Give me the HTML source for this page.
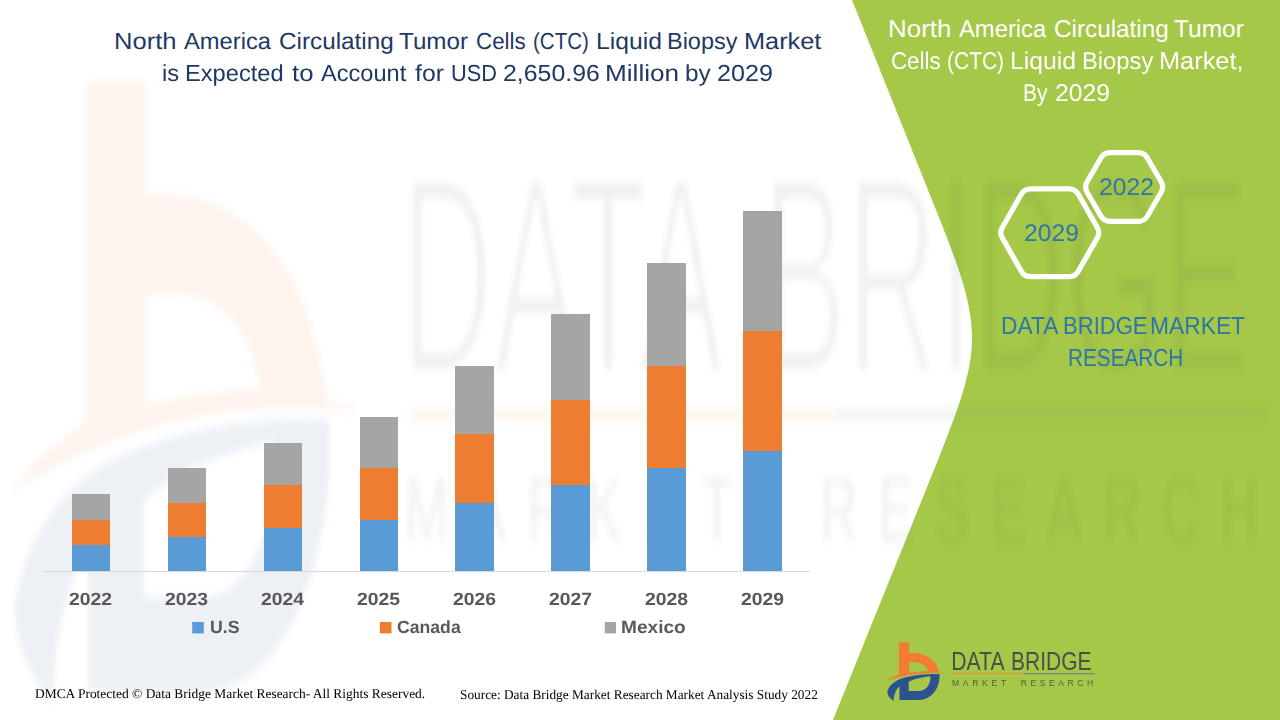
<!DOCTYPE html>
<html lang="en"><head><meta charset="utf-8"><title>North America CTC Liquid Biopsy Market</title>
<style>
html,body{margin:0;padding:0;background:#fff;}
body{width:1280px;height:720px;position:relative;overflow:hidden;}
svg.bg{position:absolute;left:0;top:0;}
.t{position:absolute;white-space:nowrap;line-height:1;transform-origin:0 0;text-rendering:geometricPrecision;}
</style></head><body>
<svg class="bg" width="1280" height="720" viewBox="0 0 1280 720">
<defs>
<filter id="thin" x="-5%" y="-10%" width="110%" height="120%"><feMorphology operator="erode" radius="0.34 0.3"/></filter>
<symbol id="logo" viewBox="0 0 212 68" preserveAspectRatio="none">
<g transform="translate(0,0.9)">
<path fill="#f47b35" d="M14.2,6.9 H24.2 V17.6 C31,17.3 36,18 40.5,20.1 C47.5,23 52.3,28.5 54.2,37 C56,37.2 58,37.5 59.5,38 C52,37.6 44,37.4 34,38.3 C22,39.5 10,42.5 1.5,45.8 C5,43 9.5,40.8 14.2,39 Z M24.2,27.0 V37.4 C30,36.6 37,36 43.2,35.8 C42,31.6 38.5,28.4 34,27.4 C31,26.8 27.5,26.9 24.2,27.0 Z"/>
<path fill="#2c5291" fill-rule="evenodd" d="M2.4,56.5 C3.5,51.5 8,46.5 16,43.4 C27,39.6 42,38.5 54.6,38.7 C55,43 54.3,47.5 52.5,51.5 C49,59.5 42.5,64 34,64.5 H14.6 V51.1 C11.5,53.5 9,58.5 8.8,65.7 C5,63 2.6,60 2.4,56.5 Z M23.8,46.3 V55.5 H34.5 C39.5,55 43,52 44.6,47.5 C45.4,45.3 45.7,43 45.7,40.9 C38,41.5 29.5,43.5 23.8,46.3 Z"/>
</g>
<text filter="url(#thin)" x="66.4" y="35.1" font-family="Liberation Sans, sans-serif" font-size="26.3" fill="#4a4f4a" textLength="53.4" lengthAdjust="spacingAndGlyphs">DATA</text>
<text filter="url(#thin)" x="126.2" y="35.1" font-family="Liberation Sans, sans-serif" font-size="26.3" fill="#4a4f4a" textLength="80.6" lengthAdjust="spacingAndGlyphs">BRIDGE</text>
<rect x="67.7" y="38.65" width="71.2" height="1.1" fill="#e9913f"/>
<rect x="138.9" y="38.65" width="71" height="1.1" fill="#6d7f8a"/>
<text x="67.1" y="51.1" font-family="Liberation Sans, sans-serif" font-size="8.6" fill="#555a52" textLength="54.2" lengthAdjust="spacing">MARKET</text>
<text x="135.8" y="51.1" font-family="Liberation Sans, sans-serif" font-size="8.6" fill="#555a52" textLength="72.6" lengthAdjust="spacing">RESEARCH</text>
</symbol>
<filter id="wb" x="-5%" y="-5%" width="110%" height="110%"><feGaussianBlur stdDeviation="2.5 5"/></filter>
</defs>
<path fill="#a5c848" d="M852,0 L940,220 C984,330 982,350 938,460 L833,720 H1280 V0 Z"/>
<use href="#logo" x="0" y="0" width="1280" height="720" opacity="0.085" filter="url(#wb)"/>
<rect x="43" y="571" width="767" height="1" fill="#d9d9d9"/>
<rect x="72" y="494" width="38" height="26" fill="#a5a5a5"/>
<rect x="72" y="520" width="38" height="25" fill="#ed7d31"/>
<rect x="72" y="545" width="38" height="26" fill="#5b9bd5"/>
<rect x="168" y="468" width="38" height="35" fill="#a5a5a5"/>
<rect x="168" y="503" width="38" height="34" fill="#ed7d31"/>
<rect x="168" y="537" width="38" height="34" fill="#5b9bd5"/>
<rect x="264" y="443" width="38" height="42" fill="#a5a5a5"/>
<rect x="264" y="485" width="38" height="43" fill="#ed7d31"/>
<rect x="264" y="528" width="38" height="43" fill="#5b9bd5"/>
<rect x="360" y="417" width="38" height="51" fill="#a5a5a5"/>
<rect x="360" y="468" width="38" height="52" fill="#ed7d31"/>
<rect x="360" y="520" width="38" height="51" fill="#5b9bd5"/>
<rect x="455" y="366" width="39" height="68" fill="#a5a5a5"/>
<rect x="455" y="434" width="39" height="69" fill="#ed7d31"/>
<rect x="455" y="503" width="39" height="68" fill="#5b9bd5"/>
<rect x="551" y="314" width="39" height="86" fill="#a5a5a5"/>
<rect x="551" y="400" width="39" height="85" fill="#ed7d31"/>
<rect x="551" y="485" width="39" height="86" fill="#5b9bd5"/>
<rect x="647" y="263" width="39" height="103" fill="#a5a5a5"/>
<rect x="647" y="366" width="39" height="102" fill="#ed7d31"/>
<rect x="647" y="468" width="39" height="103" fill="#5b9bd5"/>
<rect x="743" y="211" width="39" height="120" fill="#a5a5a5"/>
<rect x="743" y="331" width="39" height="120" fill="#ed7d31"/>
<rect x="743" y="451" width="39" height="120" fill="#5b9bd5"/>
<rect x="192.2" y="622" width="11.6" height="11.4" fill="#5b9bd5"/>
<rect x="379.9" y="622" width="11.6" height="11.4" fill="#ed7d31"/>
<rect x="604.8" y="622" width="11.2" height="11.4" fill="#a5a5a5"/>
<path d="M1002.3,237.9 Q999.3,232.7 1002.3,227.5 L1021.4,194.0 Q1024.4,188.8 1030.4,188.8 L1069.2,188.8 Q1075.2,188.8 1078.2,194.0 L1097.3,227.5 Q1100.3,232.7 1097.3,237.9 L1078.2,271.4 Q1075.2,276.6 1069.2,276.6 L1030.4,276.6 Q1024.4,276.6 1021.4,271.4 Z" fill="none" stroke="#fff" stroke-width="5.2" stroke-linejoin="round"/>
<path d="M1087.1,192.2 Q1084.1,187.0 1087.1,181.8 L1101.0,157.8 Q1104.1,152.6 1110.1,152.6 L1138.2,152.6 Q1144.2,152.6 1147.3,157.8 L1161.2,181.8 Q1164.2,187.0 1161.2,192.2 L1147.3,216.2 Q1144.2,221.4 1138.2,221.4 L1110.1,221.4 Q1104.1,221.4 1101.0,216.2 Z" fill="none" stroke="#fff" stroke-width="5.2" stroke-linejoin="round"/>
<use href="#logo" x="884.85" y="634.5" width="212" height="68"/>
</svg>
<div class="t" style="left:114.06px;top:29.74px;font-family:'Liberation Sans', sans-serif;font-weight:400;font-size:23.3px;color:#1f3864;transform:scaleX(1.0972)">North</div>
<div class="t" style="left:183.75px;top:29.74px;font-family:'Liberation Sans', sans-serif;font-weight:400;font-size:23.3px;color:#1f3864;transform:scaleX(1.0174)">America</div>
<div class="t" style="left:278.96px;top:29.74px;font-family:'Liberation Sans', sans-serif;font-weight:400;font-size:23.3px;color:#1f3864;transform:scaleX(1.0417)">Circulating</div>
<div class="t" style="left:399.46px;top:29.74px;font-family:'Liberation Sans', sans-serif;font-weight:400;font-size:23.3px;color:#1f3864;transform:scaleX(1.0385)">Tumor</div>
<div class="t" style="left:476.04px;top:29.74px;font-family:'Liberation Sans', sans-serif;font-weight:400;font-size:23.3px;color:#1f3864;transform:scaleX(0.9600)">Cells</div>
<div class="t" style="left:532.87px;top:29.74px;font-family:'Liberation Sans', sans-serif;font-weight:400;font-size:23.3px;color:#1f3864;transform:scaleX(0.8811)">(CTC)</div>
<div class="t" style="left:595.88px;top:29.74px;font-family:'Liberation Sans', sans-serif;font-weight:400;font-size:23.3px;color:#1f3864;transform:scaleX(1.0593)">Liquid</div>
<div class="t" style="left:667.49px;top:29.74px;font-family:'Liberation Sans', sans-serif;font-weight:400;font-size:23.3px;color:#1f3864;transform:scaleX(1.0074)">Biopsy</div>
<div class="t" style="left:744.08px;top:29.74px;font-family:'Liberation Sans', sans-serif;font-weight:400;font-size:23.3px;color:#1f3864;transform:scaleX(1.0870)">Market</div>
<div class="t" style="left:162.46px;top:61.54px;font-family:'Liberation Sans', sans-serif;font-weight:400;font-size:23.3px;color:#1f3864;transform:scaleX(1.0179)">is</div>
<div class="t" style="left:185.47px;top:61.54px;font-family:'Liberation Sans', sans-serif;font-weight:400;font-size:23.3px;color:#1f3864;transform:scaleX(1.0160)">Expected</div>
<div class="t" style="left:292.00px;top:61.54px;font-family:'Liberation Sans', sans-serif;font-weight:400;font-size:23.3px;color:#1f3864;transform:scaleX(1.1053)">to</div>
<div class="t" style="left:321.25px;top:61.54px;font-family:'Liberation Sans', sans-serif;font-weight:400;font-size:23.3px;color:#1f3864;transform:scaleX(1.0119)">Account</div>
<div class="t" style="left:415.00px;top:61.54px;font-family:'Liberation Sans', sans-serif;font-weight:400;font-size:23.3px;color:#1f3864;transform:scaleX(1.0648)">for</div>
<div class="t" style="left:450.63px;top:61.54px;font-family:'Liberation Sans', sans-serif;font-weight:400;font-size:23.3px;color:#1f3864;transform:scaleX(0.9348)">USD</div>
<div class="t" style="left:503.43px;top:61.54px;font-family:'Liberation Sans', sans-serif;font-weight:400;font-size:23.3px;color:#1f3864;transform:scaleX(1.0674)">2,650.96</div>
<div class="t" style="left:604.75px;top:61.54px;font-family:'Liberation Sans', sans-serif;font-weight:400;font-size:23.3px;color:#1f3864;transform:scaleX(1.1230)">Million</div>
<div class="t" style="left:684.91px;top:61.54px;font-family:'Liberation Sans', sans-serif;font-weight:400;font-size:23.3px;color:#1f3864;transform:scaleX(1.0455)">by</div>
<div class="t" style="left:716.92px;top:61.54px;font-family:'Liberation Sans', sans-serif;font-weight:400;font-size:23.3px;color:#1f3864;transform:scaleX(1.0800)">2029</div>
<div class="t" style="left:888.36px;top:18.00px;font-family:'Liberation Sans', sans-serif;font-weight:400;font-size:24.2px;color:#ffffff;transform:scaleX(1.0714)">North</div>
<div class="t" style="left:958.75px;top:18.00px;font-family:'Liberation Sans', sans-serif;font-weight:400;font-size:24.2px;color:#ffffff;transform:scaleX(0.9831)">America</div>
<div class="t" style="left:1054.00px;top:18.00px;font-family:'Liberation Sans', sans-serif;font-weight:400;font-size:24.2px;color:#ffffff;transform:scaleX(1.0045)">Circulating</div>
<div class="t" style="left:1174.49px;top:18.00px;font-family:'Liberation Sans', sans-serif;font-weight:400;font-size:24.2px;color:#ffffff;transform:scaleX(1.0132)">Tumor</div>
<div class="t" style="left:891.08px;top:49.90px;font-family:'Liberation Sans', sans-serif;font-weight:400;font-size:24.2px;color:#ffffff;transform:scaleX(0.9231)">Cells</div>
<div class="t" style="left:947.02px;top:49.90px;font-family:'Liberation Sans', sans-serif;font-weight:400;font-size:24.2px;color:#ffffff;transform:scaleX(0.8669)">(CTC)</div>
<div class="t" style="left:1010.45px;top:49.90px;font-family:'Liberation Sans', sans-serif;font-weight:400;font-size:24.2px;color:#ffffff;transform:scaleX(1.0246)">Liquid</div>
<div class="t" style="left:1081.79px;top:49.90px;font-family:'Liberation Sans', sans-serif;font-weight:400;font-size:24.2px;color:#ffffff;transform:scaleX(0.9821)">Biopsy</div>
<div class="t" style="left:1159.16px;top:49.90px;font-family:'Liberation Sans', sans-serif;font-weight:400;font-size:24.2px;color:#ffffff;transform:scaleX(1.0474)">Market,</div>
<div class="t" style="left:1022.77px;top:81.90px;font-family:'Liberation Sans', sans-serif;font-weight:400;font-size:24.2px;color:#ffffff;transform:scaleX(0.8654)">By</div>
<div class="t" style="left:1055.23px;top:81.90px;font-family:'Liberation Sans', sans-serif;font-weight:400;font-size:24.2px;color:#ffffff;transform:scaleX(1.0240)">2029</div>
<div class="t" style="left:1000.85px;top:314.90px;font-family:'Liberation Sans', sans-serif;font-weight:400;font-size:24.7px;color:#2e75a9;transform:scaleX(0.9250)">DATA</div>
<div class="t" style="left:1062.51px;top:314.90px;font-family:'Liberation Sans', sans-serif;font-weight:400;font-size:24.7px;color:#2e75a9;transform:scaleX(0.8935)">BRIDGE</div>
<div class="t" style="left:1150.35px;top:314.90px;font-family:'Liberation Sans', sans-serif;font-weight:400;font-size:24.7px;color:#2e75a9;transform:scaleX(0.9240)">MARKET</div>
<div class="t" style="left:1099.37px;top:175.61px;font-family:'Liberation Sans', sans-serif;font-weight:400;font-size:24.0px;color:#2e75a9;transform:scaleX(1.0294)">2022</div>
<div class="t" style="left:1024.37px;top:221.61px;font-family:'Liberation Sans', sans-serif;font-weight:400;font-size:24.0px;color:#2e75a9;transform:scaleX(1.0294)">2029</div>
<div class="t" style="left:1067.82px;top:346.80px;font-family:'Liberation Sans', sans-serif;font-weight:400;font-size:24.7px;color:#2e75a9;transform:scaleX(0.8398)">RESEARCH</div>
<div class="t" style="left:34.90px;top:686.50px;font-family:'Liberation Serif', serif;font-weight:400;font-size:13.5px;color:#000000;transform:scaleX(0.9956)">DMCA Protected © Data Bridge Market Research- All Rights Reserved.</div>
<div class="t" style="left:459.76px;top:688.00px;font-family:'Liberation Serif', serif;font-weight:400;font-size:13.5px;color:#000000;transform:scaleX(0.9860)">Source: Data Bridge Market Research Market Analysis Study 2022</div>
<div class="t" style="left:209.50px;top:618.60px;font-family:'Liberation Sans', sans-serif;font-weight:700;font-size:17.7px;color:#595959;transform:scaleX(1.0036)">U.S</div>
<div class="t" style="left:397.00px;top:618.60px;font-family:'Liberation Sans', sans-serif;font-weight:700;font-size:17.7px;color:#595959;transform:scaleX(0.9968)">Canada</div>
<div class="t" style="left:620.62px;top:618.60px;font-family:'Liberation Sans', sans-serif;font-weight:700;font-size:17.7px;color:#595959;transform:scaleX(1.0793)">Mexico</div>
<div class="t" style="left:69.11px;top:590.90px;font-family:'Liberation Sans', sans-serif;font-weight:700;font-size:17.7px;color:#595959;transform:scaleX(1.0947)">2022</div>
<div class="t" style="left:165.11px;top:590.90px;font-family:'Liberation Sans', sans-serif;font-weight:700;font-size:17.7px;color:#595959;transform:scaleX(1.0947)">2023</div>
<div class="t" style="left:261.11px;top:590.90px;font-family:'Liberation Sans', sans-serif;font-weight:700;font-size:17.7px;color:#595959;transform:scaleX(1.0947)">2024</div>
<div class="t" style="left:357.11px;top:590.90px;font-family:'Liberation Sans', sans-serif;font-weight:700;font-size:17.7px;color:#595959;transform:scaleX(1.0947)">2025</div>
<div class="t" style="left:452.61px;top:590.90px;font-family:'Liberation Sans', sans-serif;font-weight:700;font-size:17.7px;color:#595959;transform:scaleX(1.0947)">2026</div>
<div class="t" style="left:548.61px;top:590.90px;font-family:'Liberation Sans', sans-serif;font-weight:700;font-size:17.7px;color:#595959;transform:scaleX(1.0947)">2027</div>
<div class="t" style="left:644.61px;top:590.90px;font-family:'Liberation Sans', sans-serif;font-weight:700;font-size:17.7px;color:#595959;transform:scaleX(1.0947)">2028</div>
<div class="t" style="left:740.61px;top:590.90px;font-family:'Liberation Sans', sans-serif;font-weight:700;font-size:17.7px;color:#595959;transform:scaleX(1.0947)">2029</div>
</body></html>
